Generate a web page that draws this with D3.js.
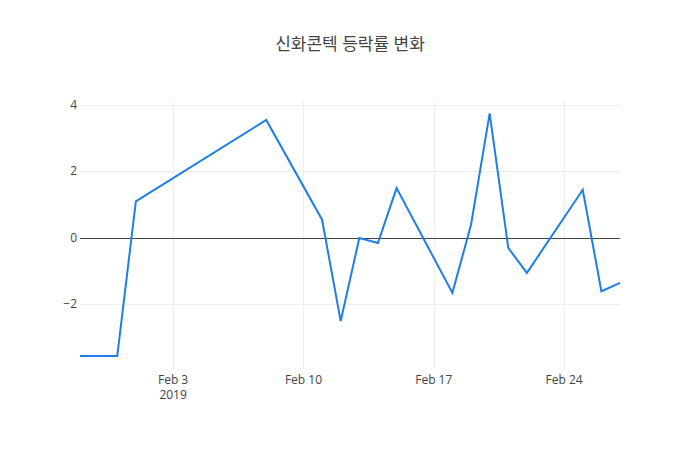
<!DOCTYPE html>
<html><head><meta charset="utf-8">
<script src="https://cdn.jsdelivr.net/npm/d3@7"></script>
<style>body{margin:0;background:#fff}text{font-family:"Open Sans","Noto Sans CJK KR",sans-serif}</style>
</head><body><svg id="c" width="700" height="450"></svg>
<script>
const dates=["2019-01-29","2019-01-31","2019-02-01","2019-02-08","2019-02-11","2019-02-12","2019-02-13","2019-02-14","2019-02-15","2019-02-18","2019-02-19","2019-02-20","2019-02-21","2019-02-22","2019-02-25","2019-02-26","2019-02-27"];
const values=[-3.55,-3.55,1.1,3.55,0.55,-2.5,0.0,-0.15,1.5,-1.65,0.4,3.75,-0.3,-1.05,1.45,-1.6,-1.35];
const yTicks=[-2,0,2,4];
const xTicks=["2019-02-03","2019-02-10","2019-02-17","2019-02-24"];
const title="신화콘텍 등락률 변화";
const p=d3.timeParse("%Y-%m-%d");
const svg=d3.select("#c");
const L=80,R=620,T=100,B=370;
const x=d3.scaleTime().domain([p(dates[0]),p(dates[dates.length-1])]).range([L,R]);
const y=d3.scaleLinear().domain([-3.97,4.15]).range([B,T]);
const g=svg.append("g");
g.selectAll(".gx").data(xTicks).join("line").attr("x1",d=>Math.round(x(p(d)))+0.5).attr("x2",d=>Math.round(x(p(d)))+0.5).attr("y1",T).attr("y2",B).attr("stroke","#eee");
g.selectAll(".gy").data(yTicks).join("line").attr("x1",L).attr("x2",R).attr("y1",d=>Math.round(y(d))+0.5).attr("y2",d=>Math.round(y(d))+0.5).attr("stroke",d=>d===0?"#444":"#eee");
g.selectAll(".ty").data(yTicks).join("text").attr("x",L-3).attr("y",d=>y(d)+4).attr("text-anchor","end").attr("font-size",12).attr("fill","#444").text(d=>d<0?"−"+Math.abs(d):d);
const fmt=d3.timeFormat("%b %-d");
xTicks.forEach((d,i)=>{const t=g.append("text").attr("x",x(p(d))).attr("y",B+14).attr("text-anchor","middle").attr("font-size",12).attr("fill","#444");
t.append("tspan").attr("x",x(p(d))).text(fmt(p(d)));
if(i===0)t.append("tspan").attr("x",x(p(d))).attr("dy",15).text("2019");});
svg.append("path").datum(dates.map((d,i)=>[p(d),values[i]])).attr("fill","none").attr("stroke","#1f7ee6").attr("stroke-width",2)
.attr("d",d3.line().x(d=>x(d[0])).y(d=>y(d[1])));
svg.append("text").attr("x",350).attr("y",50).attr("text-anchor","middle").attr("font-size",17).attr("fill","#444").text(title);
</script></body></html>
